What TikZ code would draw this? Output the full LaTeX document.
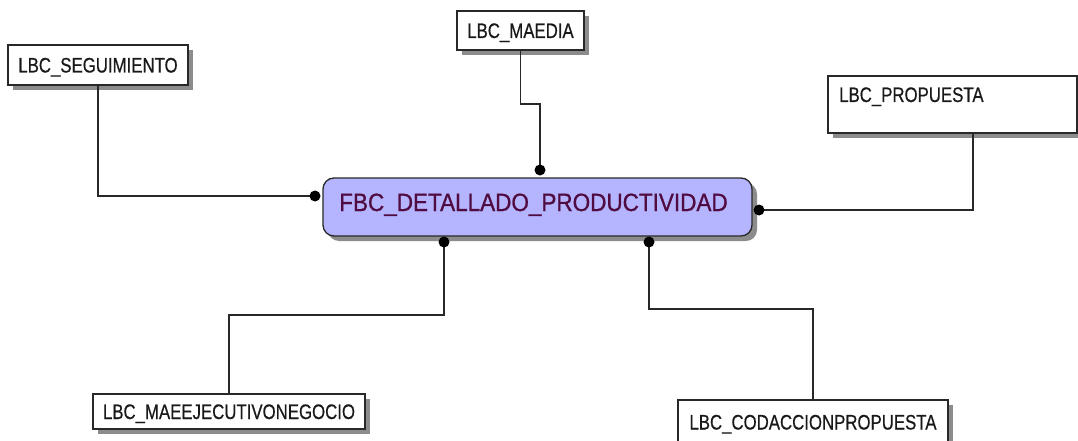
\documentclass[tikz,border=0pt]{standalone}
\usepackage{fontspec}
\usepackage{graphicx}
\setmainfont{Liberation Sans}
\newfontfamily\labelfont{Liberation Sans}[FakeBold=0.6]
\newfontfamily\titlefont{Liberation Sans}[FakeBold=0.9]
\usetikzlibrary{shadows}
\definecolor{boxfill}{RGB}{180,180,255}
\definecolor{titlecol}{RGB}{80,12,64}
\definecolor{linecol}{RGB}{40,40,40}
\newcommand{\condtxt}[1]{\scalebox{0.8}[1]{#1}}
\tikzset{
  tbl/.style={draw=linecol, line width=1.3pt, fill=white, inner sep=0pt,
    font=\labelfont\fontsize{21}{24}\selectfont, text=black!90, text height=15pt, text depth=0pt,
    drop shadow={shadow xshift=5pt, shadow yshift=-5pt, fill=black!45, opacity=1}},
  fact/.style={draw=linecol, line width=1.3pt, fill=boxfill, rounded corners=11pt, inner sep=0pt,
    drop shadow={shadow xshift=5pt, shadow yshift=-5pt, fill=black!45, opacity=1}},
  conn/.style={draw=linecol, line width=1.4pt},
  dotmark/.style={fill=black}
}
\begin{document}
\begin{tikzpicture}[x=1pt, y=-1pt]
\useasboundingbox (0,0) rectangle (1078,441);
\clip (0,0) rectangle (1078,441);
\fill[white] (0,0) rectangle (1078,441);

% tables
\node[tbl, minimum width=180pt, minimum height=40pt] (seg) at (98,65) {\condtxt{LBC\_SEGUIMIENTO}};
\node[tbl, minimum width=127pt, minimum height=39pt] (mae) at (520.5,30.5) {\condtxt{LBC\_MAEDIA}};
\node[tbl, minimum width=249pt, minimum height=57pt] (prop) at (952.5,104.5) {};
\node[font=\labelfont\fontsize{21}{24}\selectfont, text=black!90, inner sep=0pt, anchor=base west] (propt) at (839,102) {\condtxt{LBC\_PROPUESTA}};
\node[tbl, minimum width=272pt, minimum height=35pt] (mej) at (229,411.5) {\condtxt{LBC\_MAEEJECUTIVONEGOCIO}};
\node[tbl, minimum width=270pt, minimum height=44pt] (cod) at (813,422) {\condtxt{LBC\_CODACCIONPROPUESTA}};

% fact
\node[fact, minimum width=429pt, minimum height=58pt] (fbc) at (537.5,207) {};
\node[font=\titlefont\fontsize{25}{28}\selectfont, text=titlecol, inner sep=0pt, anchor=base] (fbct) at (533.5,211) {\scalebox{0.9}[1]{FBC\_DETALLADO\_PRODUCTIVIDAD}};

% connection points
\coordinate (dL) at (315,196);
\coordinate (dT) at (540,170);
\coordinate (dR) at (759,210);
\coordinate (dB1) at (444,242);
\coordinate (dB2) at (649,242);

% connectors
\draw[conn] (seg.south) |- (dL);
\draw[conn] (mae.south) -- (mae.south |- 0,104) -| (dT);
\draw[conn] ([xshift=20.5pt]prop.south) |- (dR);
\draw[conn] (mej.north) -- (mej.north |- 0,315) -| (dB1);
\draw[conn] (cod.north) -- (cod.north |- 0,309) -| (dB2);

% dots
\foreach \d in {dL,dT,dR,dB1,dB2} \fill[dotmark] (\d) circle (5.5pt);
\end{tikzpicture}
\end{document}
